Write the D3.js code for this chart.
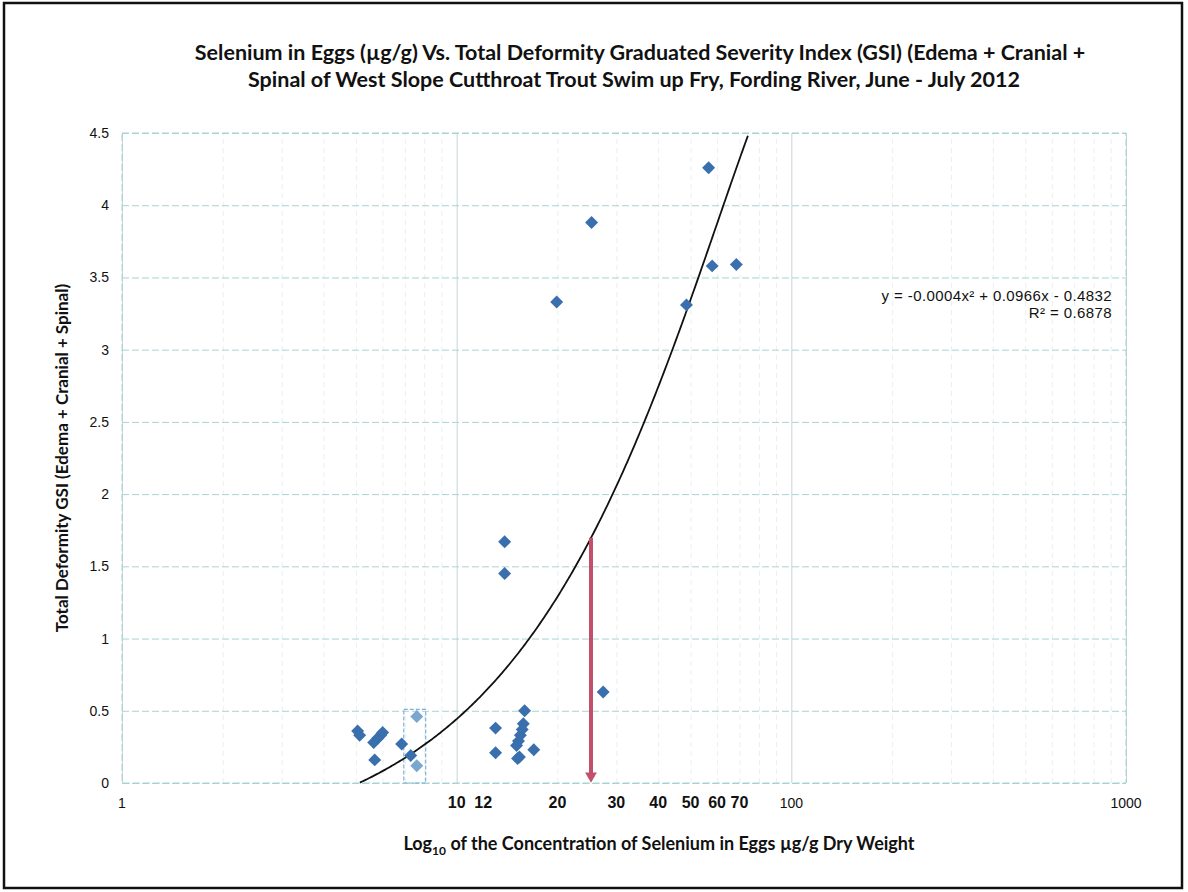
<!DOCTYPE html>
<html>
<head>
<meta charset="utf-8">
<script src="https://cdn.jsdelivr.net/npm/d3@7"></script>
<style>
  body { margin: 0; background: #fff; }
  .title { font-family: Lato, "Open Sans", sans-serif; font-weight: 700; font-size: 21.5px; fill: #111; }
  .axis-title { font-family: Lato, "Open Sans", sans-serif; font-weight: 700; fill: #111; }
  .tick-lbl { font-family: "Liberation Sans", Arial, sans-serif; font-size: 14px; fill: #111; }
  .eq { font-family: "Liberation Sans", Arial, sans-serif; font-size: 15px; fill: #111; }
</style>
</head>
<body>
<div id="chart"></div>
<script>
// selenium in eggs (ug/g dw) and total deformity GSI
const seleniumEggs = [5.06, 5.13, 5.69, 5.65, 5.81, 5.93, 6.01, 6.85, 7.29,
  13.07, 13.07, 13.91, 13.91, 15.96, 15.82, 15.7, 15.5, 15.3, 15.1, 15.2, 15.4, 17.0,
  27.4, 19.9, 25.3, 48.6, 56.6, 58.0, 68.5];
const totalGSI = [0.36, 0.33, 0.16, 0.28, 0.31, 0.33, 0.35, 0.27, 0.19,
  0.38, 0.21, 1.67, 1.45, 0.50, 0.41, 0.37, 0.33, 0.29, 0.26, 0.17, 0.18, 0.23,
  0.63, 3.33, 3.88, 3.31, 4.26, 3.58, 3.59];

// the two paler points inside the dashed box
const paleSe = [7.6, 7.6];
const paleGSI = [0.46, 0.12];

// trendline shown on the chart
const trendCoef = [-0.0004, 0.0966, -0.4832];
const trendText = ["y = -0.0004x\u00B2 + 0.0966x - 0.4832", "R\u00B2 = 0.6878"];

// red marker at ~25 ug/g
const markerSe = 25.2;
const boxSe = [6.95, 8.08];
const boxGSI = [0, 0.51];

const xTickVals = [1, 10, 12, 20, 30, 40, 50, 60, 70, 100, 1000];
const boldTicks = [10, 12, 20, 30, 40, 50, 60, 70];
const yTickVals = [0, 0.5, 1, 1.5, 2, 2.5, 3, 3.5, 4, 4.5];

const W = 1188, H = 892;
const plot = { left: 122, right: 1126, top: 133, bottom: 783 };

const svg = d3.select("#chart").append("svg")
  .attr("width", W).attr("height", H);

// outer frame
svg.append("rect")
  .attr("x", 4).attr("y", 3).attr("width", 1178).attr("height", 885)
  .attr("fill", "none").attr("stroke", "#111").attr("stroke-width", 2.5);

const x = d3.scaleLog().domain([1, 1000]).range([plot.left, plot.right]);
const y = d3.scaleLinear().domain([0, 4.5]).range([plot.bottom, plot.top]);

// vertical grid, decades darker
svg.append("g")
  .attr("transform", "translate(0," + plot.bottom + ")")
  .call(d3.axisBottom(x).ticks(10).tickSize(-(plot.bottom - plot.top)).tickFormat(""))
  .call(g => g.select(".domain").remove())
  .call(g => g.selectAll(".tick line")
    .attr("stroke", d => [1, 10, 100, 1000].includes(d) ? "#c9d3d3" : "#e8f0f0")
    .attr("stroke-dasharray", d => [1, 10, 100, 1000].includes(d) ? null : "5,4"));

// horizontal grid
svg.append("g")
  .attr("transform", "translate(" + plot.left + ",0)")
  .call(d3.axisLeft(y).tickValues(yTickVals).tickSize(-(plot.right - plot.left)).tickFormat(""))
  .call(g => g.select(".domain").remove())
  .call(g => g.selectAll(".tick line")
    .attr("stroke", "#a9d3d3").attr("stroke-dasharray", "7,3"));

// plot border
svg.append("rect")
  .attr("x", plot.left).attr("y", plot.top)
  .attr("width", plot.right - plot.left).attr("height", plot.bottom - plot.top)
  .attr("fill", "none").attr("stroke", "#a9d3d3").attr("stroke-dasharray", "7,3");

// y tick labels
svg.append("g")
  .selectAll("text")
  .data(yTickVals)
  .join("text")
    .attr("class", "tick-lbl")
    .attr("x", 109)
    .attr("y", d => y(d) + 5)
    .attr("text-anchor", "end")
    .text(d => d);

// x tick labels
svg.append("g")
  .selectAll("text")
  .data(xTickVals)
  .join("text")
    .attr("class", "tick-lbl")
    .attr("x", d => x(d))
    .attr("y", 808)
    .attr("text-anchor", "middle")
    .style("font-weight", d => boldTicks.includes(d) ? 700 : 400)
    .style("font-size", d => boldTicks.includes(d) ? "16px" : "14px")
    .text(d => d);

// dashed box round the pale points
svg.append("rect")
  .attr("x", x(boxSe[0])).attr("y", y(boxGSI[1]))
  .attr("width", x(boxSe[1]) - x(boxSe[0]))
  .attr("height", y(boxGSI[0]) - y(boxGSI[1]))
  .attr("fill", "none").attr("stroke", "#7fb0dc").attr("stroke-width", 1.2)
  .attr("stroke-dasharray", "4,2");

// trendline
const trend = v => trendCoef[0] * v * v + trendCoef[1] * v + trendCoef[2];
const trendPts = d3.range(0, 301).map(i => Math.pow(10, 0.69 + i * (1.95 - 0.69) / 300))
  .map(v => [v, trend(v)])
  .filter(d => d[1] >= 0 && d[1] <= 4.5);
svg.append("path")
  .datum(trendPts)
  .attr("fill", "none").attr("stroke", "#111").attr("stroke-width", 1.8)
  .attr("d", d3.line().x(d => x(d[0])).y(d => y(d[1])));

// red arrow from the curve down to the axis
svg.append("line")
  .attr("x1", x(markerSe)).attr("x2", x(markerSe))
  .attr("y1", y(trend(markerSe))).attr("y2", y(0.06))
  .attr("stroke", "#c2506b").attr("stroke-width", 4);
svg.append("path")
  .attr("d", d3.symbol(d3.symbolTriangle, 60)())
  .attr("transform", "translate(" + x(markerSe) + "," + (y(0) - 7) + ") rotate(180)")
  .attr("fill", "#c2506b");

// points
const diamond = d3.symbol(d3.symbolSquare, 84)();
svg.append("g")
  .selectAll("path")
  .data(d3.zip(paleSe, paleGSI))
  .join("path")
    .attr("d", diamond)
    .attr("transform", d => "translate(" + x(d[0]) + "," + y(d[1]) + ") rotate(45)")
    .attr("fill", "#7aa6cf");

svg.append("g")
  .selectAll("path")
  .data(d3.zip(seleniumEggs, totalGSI))
  .join("path")
    .attr("d", diamond)
    .attr("transform", d => "translate(" + x(d[0]) + "," + y(d[1]) + ") rotate(45)")
    .attr("fill", "#3a6fad");

// equation
svg.selectAll(".eq")
  .data(trendText)
  .join("text")
    .attr("class", "eq")
    .attr("x", 1112)
    .attr("y", (d, i) => 301 + i * 17)
    .attr("text-anchor", "end")
    .style("letter-spacing", "0.4px")
    .text(d => d);

// titles
svg.append("text").attr("class", "title")
  .attr("x", 640).attr("y", 60).attr("text-anchor", "middle")
  .text("Selenium in Eggs (\u00B5g/g) Vs. Total Deformity Graduated Severity Index (GSI) (Edema + Cranial +");
svg.append("text").attr("class", "title")
  .attr("x", 634).attr("y", 87).attr("text-anchor", "middle")
  .text("Spinal of West Slope Cutthroat Trout Swim up Fry, Fording River, June - July 2012");

svg.append("text").attr("class", "axis-title")
  .attr("transform", "translate(68,458) rotate(-90)")
  .attr("text-anchor", "middle")
  .style("font-size", "17px")
  .text("Total Deformity GSI (Edema + Cranial + Spinal)");

const xt = svg.append("text").attr("class", "axis-title")
  .attr("x", 659).attr("y", 850).attr("text-anchor", "middle")
  .style("font-size", "18px");
xt.append("tspan").text("Log");
xt.append("tspan").attr("dy", 5).style("font-size", "12px").text("10");
xt.append("tspan").attr("dy", -5).text(" of the Concentration of Selenium in Eggs \u00B5g/g Dry Weight");
</script>
</body>
</html>
